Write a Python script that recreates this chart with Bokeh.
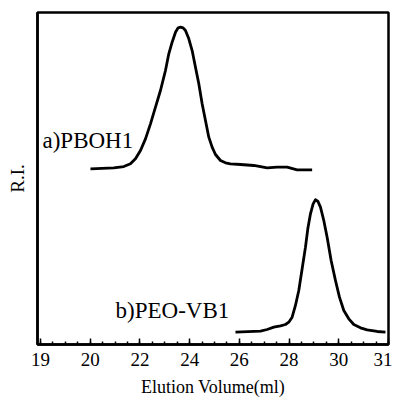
from bokeh.plotting import figure
from bokeh.models import Range1d, FixedTicker, Label
from bokeh.embed import file_html
from bokeh.resources import INLINE

# Series a) PBOH1 (elution volume, detector response)
a_x = [20.011, 20.950, 21.352, 21.620, 21.821, 22.023, 22.224, 22.425, 22.626, 22.827,
       23.028, 23.162, 23.296, 23.431, 23.538, 23.632, 23.739, 23.833, 23.967, 24.101,
       24.235, 24.369, 24.503, 24.637, 24.771, 24.905, 25.039, 25.241, 25.442, 25.643,
       26.045, 26.582, 27.118, 27.519, 27.921, 28.325, 28.928]
a_y = [52.91, 53.21, 53.61, 54.42, 55.92, 58.43, 61.95, 66.47, 71.48, 76.51,
       82.53, 87.55, 91.06, 94.07, 95.38, 95.58, 95.38, 94.58, 92.07, 88.55,
       83.53, 78.51, 72.49, 67.47, 62.45, 59.44, 57.23, 55.42, 54.72, 54.42,
       54.22, 53.92, 53.21, 53.41, 53.41, 52.61, 52.61]

# Series b) PEO-VB1
b_x = [25.844, 26.850, 27.118, 27.386, 27.654, 27.855, 27.989, 28.123, 28.257, 28.391,
       28.526, 28.660, 28.754, 28.861, 28.968, 29.062, 29.156, 29.263, 29.397, 29.531,
       29.692, 29.867, 30.027, 30.202, 30.403, 30.604, 30.872, 31.141, 31.543, 31.878]
b_y = [3.71, 4.01, 4.52, 5.22, 5.62, 6.02, 6.73, 8.23, 11.75, 16.27,
       22.79, 29.32, 34.84, 39.36, 42.37, 43.58, 43.17, 41.36, 37.35, 32.33,
       25.30, 19.28, 14.26, 10.24, 7.73, 6.02, 5.02, 4.42, 3.92, 3.71]

tick_values = [18, 20, 22, 24, 26, 28, 30, 32]
tick_labels = ["19", "20", "22", "24", "26", "28", "30", "31"]
minor_values = [v / 2 for v in range(36, 65)]

serif = "Liberation Serif"

p = figure(width=392, height=402, output_backend="svg", toolbar_location=None,
           x_range=Range1d(17.88, 32.0), y_range=Range1d(0, 100),
           min_border_left=37, min_border_right=4, min_border_top=12,
           min_border_bottom=58)

p.grid.visible = False
p.background_fill_color = "white"
p.border_fill_color = "white"
p.outline_line_color = "black"
p.outline_line_width = 2.5

p.line(a_x, a_y, line_color="black", line_width=2.8, line_join="round")
p.line(b_x, b_y, line_color="black", line_width=2.8, line_join="round")

xa = p.xaxis[0]
xa.ticker = FixedTicker(ticks=tick_values, minor_ticks=minor_values)
xa.major_label_overrides = {v: t for v, t in zip(tick_values, tick_labels)}
xa.major_tick_in = 6
xa.major_tick_out = 0
xa.minor_tick_in = 3
xa.minor_tick_out = 0
xa.major_tick_line_color = "black"
xa.minor_tick_line_color = "black"
xa.major_tick_line_width = 1.5
xa.minor_tick_line_width = 1.5
xa.axis_line_color = "black"
xa.axis_line_width = 2.5
xa.major_label_text_font = serif
xa.major_label_text_font_size = "19px"
xa.major_label_text_color = "black"
xa.major_label_standoff = 8
xa.axis_label = "Elution Volume(ml)"
xa.axis_label_text_font = serif
xa.axis_label_text_font_size = "18px"
xa.axis_label_text_font_style = "normal"
xa.axis_label_text_color = "black"
xa.axis_label_standoff = 8

ya = p.yaxis[0]
ya.ticker = FixedTicker(ticks=[])
ya.major_label_text_font_size = "0px"
ya.major_tick_in = 0
ya.major_tick_out = 0
ya.minor_tick_in = 0
ya.minor_tick_out = 0
ya.axis_line_color = "black"
ya.axis_line_width = 2.5
ya.axis_label = "R.I."
ya.axis_label_text_font = serif
ya.axis_label_text_font_size = "19px"
ya.axis_label_text_font_style = "normal"
ya.axis_label_text_color = "black"
ya.axis_label_standoff = 10

p.add_layout(Label(x=18.08, y=61.4, text="a)PBOH1", text_font=serif,
                   text_font_size="23px", text_color="black",
                   text_baseline="alphabetic", text_align="left"))
p.add_layout(Label(x=21.02, y=10.2, text="b)PEO-VB1", text_font=serif,
                   text_font_size="23px", text_color="black",
                   text_baseline="alphabetic", text_align="left"))

open("out.html", "w").write(file_html(p, INLINE))
